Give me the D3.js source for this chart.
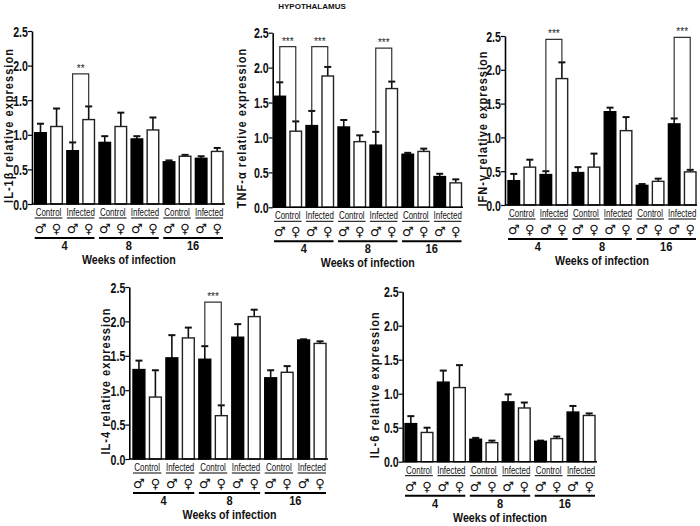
<!DOCTYPE html>
<html>
<head>
<meta charset="utf-8">
<script src="https://cdn.jsdelivr.net/npm/d3@7"></script>
<style>
  body { margin: 0; background: #fff; }
  svg { display: block; }
  text { font-family: "Liberation Sans", Arial, sans-serif; fill: #111; }
  .tick text { font-weight: bold; font-size: 14px; }
</style>
</head>
<body>
<svg id="chart" width="700" height="526"></svg>
<script>
// bar order: wk4 ctrl M,F | wk4 inf M,F | wk8 ctrl M,F | wk8 inf M,F | wk16 ctrl M,F | wk16 inf M,F
var weeks = ["4", "8", "16"],
	groups = ["Control", "Infected"],
	sexes = ["\u2642", "\u2640"];

var il1bMean = [1.03, 1.12, 0.77, 1.22, 0.89, 1.12, 0.94, 1.07, 0.61, 0.69, 0.66, 0.76],
	il1bErr  = [0.13, 0.26, 0.12, 0.19, 0.09, 0.20, 0.04, 0.18, 0.02, 0.02, 0.03, 0.05],
	il1bSig  = [{a: 2, b: 3, y: 1.88, txt: "**"}];

var tnfMean = [1.59, 1.09, 1.17, 1.88, 1.15, 0.94, 0.89, 1.70, 0.76, 0.80, 0.44, 0.35],
	tnfErr  = [0.20, 0.14, 0.21, 0.13, 0.10, 0.09, 0.19, 0.10, 0.02, 0.04, 0.04, 0.05],
	tnfSig  = [{a: 0, b: 1, y: 2.30, txt: "***"}, {a: 2, b: 3, y: 2.30, txt: "***"}, {a: 6, b: 7, y: 2.28, txt: "***"}];

var ifnMean = [0.36, 0.56, 0.45, 1.87, 0.48, 0.56, 1.38, 1.10, 0.29, 0.35, 1.20, 0.49],
	ifnErr  = [0.10, 0.11, 0.05, 0.24, 0.08, 0.20, 0.06, 0.20, 0.02, 0.04, 0.08, 0.03],
	ifnSig  = [{a: 2, b: 3, y: 2.45, txt: "***"}, {a: 10, b: 11, y: 2.48, txt: "***"}];

var il4Mean = [1.30, 0.90, 1.47, 1.76, 1.45, 0.63, 1.77, 2.07, 1.18, 1.26, 1.73, 1.68],
	il4Err  = [0.13, 0.39, 0.33, 0.15, 0.19, 0.15, 0.19, 0.10, 0.11, 0.09, 0.01, 0.03],
	il4Sig  = [{a: 4, b: 5, y: 2.28, txt: "***"}];

var il6Mean = [0.56, 0.43, 1.17, 1.09, 0.33, 0.28, 0.88, 0.79, 0.30, 0.34, 0.73, 0.68],
	il6Err  = [0.11, 0.07, 0.17, 0.33, 0.02, 0.03, 0.11, 0.08, 0.01, 0.03, 0.09, 0.03],
	il6Sig  = [];

var yTicks = [0, 0.5, 1.0, 1.5, 2.0, 2.5];

var svg = d3.select("#chart");

// text squeezed horizontally, to look like a narrow face
function narrowText(sel, x, y, sx, str) {
	return sel.append("text")
		.attr("transform", "translate(" + x + "," + y + ") scale(" + sx + ",1)")
		.attr("text-anchor", "middle")
		.text(str);
}

svg.append("text")
	.attr("x", 312).attr("y", 9)
	.attr("text-anchor", "middle")
	.style("font-weight", "bold").style("font-size", "8px")
	.text("HYPOTHALAMUS");

// panel layout (positions only)
var panels = [
	{label: "IL-1\u03b2 relative expression", mean: il1bMean, err: il1bErr, sig: il1bSig,
		ax: 32, y0: 204, yTop: 31, bx0: 34.7, bx1: 223, xEnd: 225, ldx: 24},
	{label: "TNF-\u03b1 relative expression", mean: tnfMean, err: tnfErr, sig: tnfSig,
		ax: 272.7, y0: 207.3, yTop: 32.7, bx0: 274, bx1: 461.5, xEnd: 463, ldx: 31},
	{label: "IFN-\u03b3 relative expression", mean: ifnMean, err: ifnErr, sig: ifnSig,
		ax: 505, y0: 205, yTop: 36, bx0: 508, bx1: 696, xEnd: 697, ldx: 23},
	{label: "IL-4 relative expression", mean: il4Mean, err: il4Err, sig: il4Sig,
		ax: 129.3, y0: 459, yTop: 287, bx0: 133, bx1: 326, xEnd: 328, ldx: 24},
	{label: "IL-6 relative expression", mean: il6Mean, err: il6Err, sig: il6Sig,
		ax: 402.7, y0: 461.7, yTop: 291.7, bx0: 405, bx1: 595, xEnd: 597, ldx: 28}
];

panels.forEach(drawPanel);

function drawPanel(p) {
	var g = svg.append("g");
	var y = d3.scaleLinear().domain([0, 2.5]).range([p.y0, p.yTop]);
	var x = d3.scaleBand().domain(d3.range(12)).range([p.bx0, p.bx1]).paddingInner(0.28);
	var bw = x.bandwidth();
	var cx = function (i) { return x(i) + bw / 2; };

	// error bars (drawn first so bars cover the stem base)
	var eb = g.append("g").attr("stroke", "#111").attr("stroke-width", 1.6);
	p.mean.forEach(function (m, i) {
		var top = y(m + p.err[i]);
		eb.append("line").attr("x1", cx(i)).attr("x2", cx(i)).attr("y1", y(m)).attr("y2", top);
		eb.append("line").attr("x1", cx(i) - 3.5).attr("x2", cx(i) + 3.5).attr("y1", top).attr("y2", top)
			.attr("stroke-width", 2);
	});

	g.append("g").selectAll("rect")
		.data(p.mean)
		.join("rect")
		.attr("x", function (d, i) { return x(i); })
		.attr("y", function (d) { return y(d); })
		.attr("width", bw)
		.attr("height", function (d) { return p.y0 - y(d); })
		.attr("fill", function (d, i) { return i % 2 ? "#fff" : "#000"; })
		.attr("stroke", function (d, i) { return i % 2 ? "#222" : "#000"; })
		.attr("stroke-width", 1.4);

	// significance brackets
	p.sig.forEach(function (s) {
		var ya = y(p.mean[s.a] + p.err[s.a]), yb = y(p.mean[s.b] + p.err[s.b]), yt = y(s.y);
		g.append("path")
			.attr("d", "M" + cx(s.a) + "," + ya + "V" + yt + "H" + cx(s.b) + "V" + yb)
			.attr("fill", "none").attr("stroke", "#333").attr("stroke-width", 1.2);
		g.append("text")
			.attr("x", (cx(s.a) + cx(s.b)) / 2).attr("y", yt - 2)
			.attr("text-anchor", "middle")
			.style("font-size", "10px").style("fill", "#222")
			.text(s.txt);
	});

	// axes
	var yAxis = d3.axisLeft(y).tickValues(yTicks).tickFormat(d3.format(".1f")).tickSize(4).tickSizeOuter(0);
	var ag = g.append("g").attr("transform", "translate(" + p.ax + ",0)").call(yAxis);
	ag.attr("font-family", null).attr("font-size", null);
	ag.select(".domain").attr("stroke-width", 1.6);
	ag.selectAll(".tick line").attr("stroke-width", 1.2);
	ag.selectAll(".tick text").attr("x", null).attr("dy", null)
		.attr("transform", "translate(-4,5) scale(0.76,1)");

	g.append("line")
		.attr("x1", p.ax).attr("x2", p.xEnd).attr("y1", p.y0).attr("y2", p.y0)
		.attr("stroke", "#000").attr("stroke-width", 1.6);

	g.append("text")
		.attr("transform", "translate(" + (p.ax - p.ldx) + "," + ((p.y0 + p.yTop) / 2 + 8) + ") rotate(-90) scale(0.85,1)")
		.attr("text-anchor", "middle").attr("dy", "0.35em")
		.style("font-weight", "bold").style("font-size", "13px").style("letter-spacing", "1.2px")
		.text(p.label);

	// condition labels under each pair
	d3.range(6).forEach(function (k) {
		var xa = x(2 * k), xb = x(2 * k + 1) + bw;
		narrowText(g, (xa + xb) / 2, p.y0 + 12, 0.76, groups[k % 2])
			.style("font-size", "10.5px");
		g.append("line")
			.attr("x1", xa).attr("x2", xb).attr("y1", p.y0 + 14).attr("y2", p.y0 + 14)
			.attr("stroke", "#000").attr("stroke-width", 1);
	});

	// sex symbols
	g.append("g").selectAll("text")
		.data(p.mean)
		.join("text")
		.attr("x", function (d, i) { return cx(i); })
		.attr("y", p.y0 + 29)
		.attr("text-anchor", "middle")
		.style("font-family", "DejaVu Sans, sans-serif").style("font-size", "13px")
		.text(function (d, i) { return sexes[i % 2]; });

	// week groups
	weeks.forEach(function (w, k) {
		var xa = x(4 * k), xb = x(4 * k + 3) + bw;
		g.append("line")
			.attr("x1", xa).attr("x2", xb).attr("y1", p.y0 + 34).attr("y2", p.y0 + 34)
			.attr("stroke", "#000").attr("stroke-width", 2);
		narrowText(g, (xa + xb) / 2, p.y0 + 46, 0.85, w)
			.style("font-weight", "bold").style("font-size", "13px");
	});

	narrowText(g, (p.bx0 + p.bx1) / 2, p.y0 + 60, 0.82, "Weeks of infection")
		.style("font-weight", "bold").style("font-size", "13px");
}
</script>
</body>
</html>
